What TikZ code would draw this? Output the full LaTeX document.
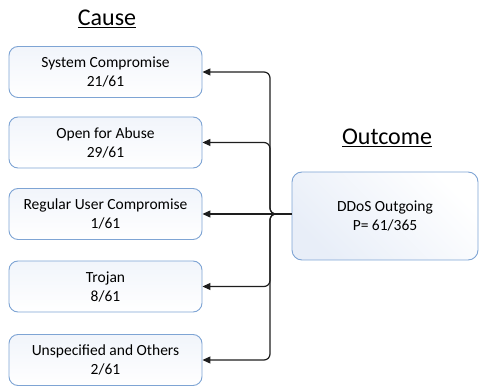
\documentclass[tikz,border=0pt]{standalone}
\usepackage{fontspec}
\setmainfont{Carlito}
\usetikzlibrary{arrows.meta}
\definecolor{boxline}{RGB}{126,164,212}
\definecolor{boxtint}{RGB}{232,238,248}
\definecolor{wire}{RGB}{30,30,30}
\tikzset{
  causebox/.style={draw=boxline, line width=0.9pt, rounded corners=9pt,
    top color=boxtint!60!white, bottom color=white,
    minimum width=193pt, minimum height=51pt, inner sep=0pt,
    align=center, font=\fontsize{15.5}{19}\selectfont},
  outbox/.style={draw=boxline, line width=0.9pt, rounded corners=10pt,
    shading=axis, left color=boxtint, right color=white, shading angle=135,
    minimum width=186pt, minimum height=88pt, inner sep=0pt,
    align=center, font=\fontsize{15.5}{19}\selectfont},
  header/.style={font=\fontsize{24}{28}\selectfont, inner sep=0pt},
  link/.style={draw=wire, line width=1.2pt, rounded corners=6pt,
    -{Triangle[length=8pt,width=7pt]}}
}
\begin{document}
\begin{tikzpicture}[x=1pt,y=-1pt]
\useasboundingbox (0,0) rectangle (479,387);

% headings
\node[header] (cause) at (107,19) {\underline{Cause}};
\node[header] (outcome) at (387,138) {\underline{Outcome}};

% cause boxes
\node[causebox] (c1) at (105.5,72)  {System Compromise\\21/61};
\node[causebox] (c2) at (105.5,142.5) {Open for Abuse\\29/61};
\node[causebox] (c3) at (105.5,214) {Regular User Compromise\\1/61};
\node[causebox] (c4) at (105.5,286.5) {Trojan\\8/61};
\node[causebox] (c5) at (105.5,360) {Unspecified and Others\\2/61};

% outcome box
\node[outbox] (out) at (385,216) {DDoS Outgoing\\P= 61/365};

% trunk where the connectors split
\coordinate (trunk) at (270,214);

% connectors
\draw[link] (out.west |- trunk) -- (trunk) |- (c1.east);
\draw[link] (out.west |- trunk) -- (trunk) |- (c2.east);
\draw[link] (out.west |- trunk) -- (c3.east);
\draw[link] (out.west |- trunk) -- (trunk) |- (c4.east);
\draw[link] (out.west |- trunk) -- (trunk) |- (c5.east);
\end{tikzpicture}
\end{document}
